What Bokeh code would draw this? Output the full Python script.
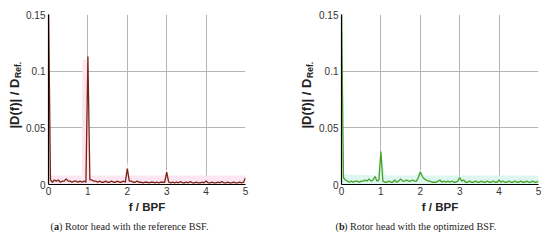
import math
import numpy as np
from bokeh.plotting import figure
from bokeh.layouts import row, column
from bokeh.models import Range1d, FixedTicker
from bokeh.core.properties import value
from bokeh.embed import file_html
from bokeh.resources import INLINE

# frequency axis (f / BPF), sampled every 0.05
freq = [round(i * 0.05, 2) for i in range(101)]

# |D(f)| / D_Ref. in units of 1e-3 -- reference BSF
ref_vals = [160, 4, 2, 4, 3, 4, 2, 3, 3, 5, 3, 3, 2, 3, 3, 2, 3, 2, 3, 2,
            113, 4, 4, 3, 3, 2, 3, 2, 2, 3, 2, 2, 3, 2, 2, 3, 2, 2, 3, 2,
            14, 3, 3, 2, 2, 3, 2, 2, 1.5, 2, 2, 1.5, 2, 2, 1.5, 2, 1.5, 2, 2, 2,
            11, 2, 1.5, 2, 1.5, 2, 1.5, 2.5, 1.5, 1.5, 2, 1.5, 2.5, 1.5, 1.5, 2, 1.5, 1.5, 2, 1.5,
            3, 1.5, 1.5, 2, 1.5, 1.5, 2, 1.5, 2.5, 1.5, 1.5, 2, 1.5, 1.5, 2, 1.5, 1.5, 2, 1.5, 2,
            6]

# |D(f)| / D_Ref. in units of 1e-3 -- optimized BSF
opt_vals = [160, 6, 4, 3, 2, 3, 2, 3, 3, 2, 3, 3, 4, 3, 5, 3, 4, 7, 3, 4,
            29, 3, 2, 2, 3, 2, 2, 4, 2, 3, 5, 3, 3, 4, 3, 3, 4, 3, 3, 6,
            11, 7, 5, 4, 3, 3, 2, 2, 2, 3, 4, 2, 3, 2, 3, 2, 3, 2, 2, 3,
            6, 3, 4, 2, 2, 3, 2, 2, 3, 2, 2, 3, 2, 2, 3, 2, 2, 3, 2, 2,
            4, 2, 3, 2, 2, 3, 2, 2, 3, 2, 2, 3, 2, 2, 3, 2, 2, 3, 2, 2,
            3]

# spread envelopes (upper bound, 1e-3)
ref_env_x = [0, 0.05, 0.85, 0.86, 0.99, 1.0, 1.05, 1.95, 2.0, 2.05, 2.95, 3.0, 3.05, 5]
ref_env_top = [150, 8, 8, 110, 110, 113, 8, 8, 20, 8, 8, 13, 8, 8]
opt_env_x = [0, 0.05, 0.9, 1.0, 1.1, 1.9, 2.0, 2.1, 5]
opt_env_top = [150, 9, 8, 30, 8, 8, 13, 8, 8]

x_ticks = [0, 1, 2, 3, 4, 5]
y_ticks = [0, 0.05, 0.1, 0.15]
y_tick_labels = {0: "0", 0.05: "0.05", 0.1: "0.1", 0.15: "0.15"}

y_label_main = "|D(f)| / D"
y_label_sub = "Ref."
x_label = "f / BPF"
captions = [("a", ") Rotor head with the reference BSF."),
            ("b", ") Rotor head with the optimized BSF.")]

TOP, FRAME_H, BOTTOM = 14, 170, 32
ROW_H = TOP + FRAME_H + BOTTOM


def panel(vals, env_x, env_top, line_color, env_color, width, bl, br):
    p = figure(width=width, height=ROW_H, x_range=Range1d(0, 5), y_range=Range1d(0, 0.15),
               output_backend="svg", toolbar_location=None,
               min_border_left=bl, min_border_right=br, min_border_top=TOP,
               min_border_bottom=BOTTOM)
    p.outline_line_color = None
    p.varea(x=env_x, y1=[0] * len(env_x), y2=np.array(env_top) * 1e-3,
            fill_color=env_color, fill_alpha=1.0)
    p.line(freq, np.array(vals) * 1e-3, line_color=line_color, line_width=1.3)

    p.xaxis.ticker = FixedTicker(ticks=x_ticks)
    p.yaxis.ticker = FixedTicker(ticks=y_ticks)
    p.yaxis.major_label_overrides = y_tick_labels
    p.xgrid.ticker = FixedTicker(ticks=x_ticks)
    p.ygrid.ticker = FixedTicker(ticks=y_ticks)
    p.grid.grid_line_color = "#b5b5b5"
    p.grid.grid_line_width = 1
    for ax in (p.xaxis, p.yaxis):
        ax.axis_line_color = "black"
        ax.axis_line_width = 1.2
        ax.major_tick_line_color = None
        ax.minor_tick_line_color = None
        ax.major_tick_out = 0
        ax.major_tick_in = 0
        ax.minor_tick_out = 0
        ax.minor_tick_in = 0
        ax.major_label_text_font = "Liberation Sans"
        ax.major_label_text_font_size = "10px"
        ax.major_label_text_color = "#333333"
    p.xaxis.major_label_standoff = 2
    p.yaxis.major_label_standoff = 3
    p.xaxis.axis_label = x_label
    p.xaxis.axis_label_text_font = "Liberation Sans"
    p.xaxis.axis_label_text_font_size = "11.5px"
    p.xaxis.axis_label_text_font_style = "bold"
    p.xaxis.axis_label_text_color = "#222222"
    p.xaxis.axis_label_standoff = 3
    return p


def label_strip(width, xc):
    s = figure(width=width, height=ROW_H, x_range=Range1d(0, width), y_range=Range1d(0, 0.15),
               output_backend="svg", toolbar_location=None,
               x_axis_type=None, y_axis_type=None,
               min_border_left=0, min_border_right=0, min_border_top=TOP,
               min_border_bottom=BOTTOM)
    s.outline_line_color = None
    s.grid.visible = False
    s.text(x=[xc], y=[0.0494], text=[y_label_main], angle=math.pi / 2,
           text_align="left", text_baseline="middle",
           text_font=value("Liberation Sans"), text_font_style="bold",
           text_font_size="13px", text_color="#222222")
    s.text(x=[xc + 3.3], y=[0.0940], text=[y_label_sub], angle=math.pi / 2,
           text_align="left", text_baseline="middle",
           text_font=value("Liberation Sans"), text_font_style="bold",
           text_font_size="8.5px", text_color="#222222")
    return s


s1 = label_strip(23, 14)
p1 = panel(ref_vals, ref_env_x, ref_env_top, "#7b2314", "#fce6f1", 275, 23, 53)
s2 = label_strip(18, 8)
p2 = panel(opt_vals, opt_env_x, opt_env_top, "#47a328", "#ddf6f0", 234, 24, 12)

cap = figure(width=550, height=24, x_range=Range1d(0, 550), y_range=Range1d(0, 24),
             output_backend="svg", toolbar_location=None,
             x_axis_type=None, y_axis_type=None,
             min_border_left=0, min_border_right=0, min_border_top=0, min_border_bottom=0)
cap.outline_line_color = None
cap.grid.visible = False
for (letter, rest), x0 in zip(captions, [50, 335]):
    common = dict(text_baseline="middle", text_font=value("Liberation Serif"),
                  text_font_size="10.2px", text_color="#222222")
    cap.text(x=[x0], y=[14], text=["("], **common)
    cap.text(x=[x0 + 3.4], y=[14], text=[letter], text_font_style="bold", **common)
    cap.text(x=[x0 + 8.6], y=[14], text=[rest], **common)

layout = column(row(s1, p1, s2, p2), cap)
open("out.html", "w").write(file_html(layout, INLINE))
